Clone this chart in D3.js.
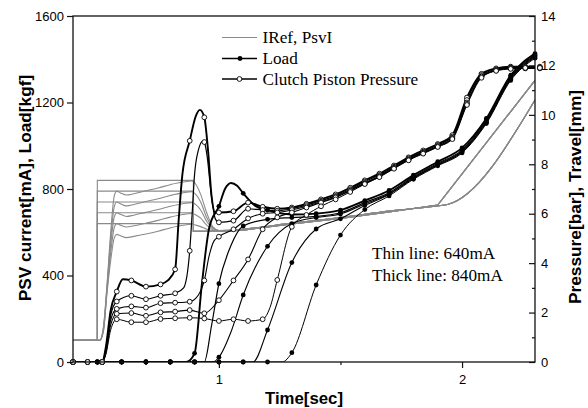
<!DOCTYPE html>
<html><head><meta charset="utf-8">
<script src="https://cdn.jsdelivr.net/npm/d3@7"></script>
<style>body{margin:0;background:#fff}svg{display:block}</style>
</head><body><svg id="c" width="588" height="408"></svg>
<script>
// ---------- tick labels ----------
const xTicks = [1, 2];
const xMinorTicks = [0.5, 1.5];
const leftTicks = [0, 400, 800, 1200, 1600];
const rightTicks = [0, 2, 4, 6, 8, 10, 12, 14];
const rightMinorTicks = [1, 3, 5, 7, 9, 11, 13];
const legendLabels = ["IRef, PsvI", "Load", "Clutch Piston Pressure"];
const notes = ["Thin line: 640mA", "Thick line: 840mA"];

// ---------- IRef (mA), five current levels ----------
const iref840 = [[0.4,100],[0.5,100],[0.5,840],[0.895,840],[0.895,604],[1.0,604],[1.1,610],[1.3,638],[1.5,664],[1.7,694],[1.9,726],[2.3,1302]];
const iref790 = [[0.4,100],[0.5,100],[0.5,790],[0.895,790],[0.895,604],[1.0,604],[1.1,610],[1.3,638],[1.5,664],[1.7,694],[1.9,726],[2.3,1302]];
const iref740 = [[0.4,100],[0.5,100],[0.5,740],[0.895,740],[0.895,604],[1.0,604],[1.1,610],[1.3,638],[1.5,664],[1.7,694],[1.9,726],[2.3,1302]];
const iref690 = [[0.4,100],[0.5,100],[0.5,690],[0.895,690],[0.895,604],[1.0,604],[1.1,610],[1.3,638],[1.5,664],[1.7,694],[1.9,726],[2.3,1302]];
const iref640 = [[0.4,100],[0.5,100],[0.5,640],[0.895,640],[0.895,604],[1.0,604],[1.1,610],[1.3,638],[1.5,664],[1.7,694],[1.9,726],[2.3,1302]];

// ---------- PsvI (mA), measured current ----------
const psvi840 = [[0.4,100],[0.51,100],[0.525,160],[0.54,360],[0.555,600],[0.57,770],[0.58,790],[0.595,782],[0.62,772],[0.65,778],[0.70,792],[0.75,805],[0.80,820],[0.85,832],[0.89,837],[0.905,822],[0.925,775],[0.95,690],[0.975,625],[1.0,608],[1.1,614],[1.3,642],[1.5,668],[1.7,698],[1.9,722],[1.94,728],[2.3,1212]];
const psvi790 = [[0.4,100],[0.51,100],[0.525,155],[0.54,350],[0.555,570],[0.57,720],[0.58,740],[0.595,732],[0.62,722],[0.65,728],[0.70,742],[0.75,755],[0.80,770],[0.85,782],[0.89,787],[0.905,775],[0.925,740],[0.95,668],[0.975,622],[1.0,608],[1.1,614],[1.3,642],[1.5,668],[1.7,698],[1.9,722],[1.94,728],[2.3,1212]];
const psvi740 = [[0.4,100],[0.51,100],[0.525,150],[0.54,340],[0.555,540],[0.57,672],[0.58,690],[0.595,683],[0.62,673],[0.65,679],[0.70,692],[0.75,705],[0.80,720],[0.85,732],[0.89,737],[0.905,728],[0.925,703],[0.95,650],[0.975,618],[1.0,607],[1.1,614],[1.3,642],[1.5,668],[1.7,698],[1.9,722],[1.94,728],[2.3,1212]];
const psvi690 = [[0.4,100],[0.51,100],[0.525,145],[0.54,330],[0.555,505],[0.57,623],[0.58,640],[0.595,633],[0.62,624],[0.65,630],[0.70,642],[0.75,655],[0.80,670],[0.85,682],[0.89,687],[0.905,680],[0.925,665],[0.95,633],[0.975,612],[1.0,606],[1.1,614],[1.3,642],[1.5,668],[1.7,698],[1.9,722],[1.94,728],[2.3,1212]];
const psvi640 = [[0.4,100],[0.51,100],[0.525,140],[0.54,320],[0.555,470],[0.57,575],[0.58,590],[0.595,584],[0.62,575],[0.65,581],[0.70,592],[0.75,605],[0.80,620],[0.85,632],[0.89,637],[0.905,633],[0.925,626],[0.95,614],[0.975,608],[1.0,606],[1.1,614],[1.3,642],[1.5,668],[1.7,698],[1.9,722],[1.94,728],[2.3,1212]];

// ---------- Load (kgf): [time, value, marker?] ----------
const load840 = [[0.4,0],[0.5,0],[0.6,0],[0.7,0],[0.8,0],[0.865,0,0],[0.9,40],[0.93,360,0],[0.96,620,0],[1.0,720],[1.025,800,0],[1.05,828,0],[1.075,815,0],[1.1,780],[1.15,722,0],[1.2,702],[1.3,682],[1.4,686],[1.5,702],[1.6,746],[1.7,793],[1.8,864],[1.9,926],[2.0,990],[2.1,1126],[2.2,1326],[2.3,1426]];
const load790 = [[0.4,0],[0.5,0],[0.6,0],[0.7,0],[0.8,0],[0.9,0],[0.94,0,0],[0.97,170,0],[1.0,362],[1.05,540,0],[1.1,629],[1.2,660],[1.3,668],[1.4,673],[1.5,690],[1.6,737],[1.7,783],[1.8,857],[1.9,919],[2.0,980],[2.1,1119],[2.2,1319],[2.3,1420]];
const load740 = [[0.4,0],[0.5,0],[0.6,0],[0.7,0],[0.8,0],[0.9,0],[0.975,0,0],[1.0,22],[1.05,140,0],[1.1,310],[1.2,535],[1.3,640],[1.4,668],[1.5,684],[1.6,731],[1.7,778],[1.8,852],[1.9,914],[2.0,975],[2.1,1112],[2.2,1312],[2.3,1415]];
const load690 = [[0.4,0],[0.5,0],[0.6,0],[0.7,0],[0.8,0],[0.9,0],[1.0,0],[1.1,0],[1.14,0,0],[1.2,148],[1.3,460],[1.4,615],[1.5,662],[1.6,724],[1.7,775],[1.8,849],[1.9,911],[2.0,971],[2.1,1108],[2.2,1308],[2.3,1410]];
const load640 = [[0.4,0],[0.5,0],[0.6,0],[0.7,0],[0.8,0],[0.9,0],[1.0,0],[1.1,0],[1.2,0],[1.26,0,0],[1.3,43],[1.4,356],[1.5,587],[1.6,705],[1.7,768],[1.8,845],[1.9,907],[2.0,967],[2.1,1103],[2.2,1302],[2.3,1405]];

// ---------- Clutch piston pressure (bar): [time, value, marker?] ----------
const pres840 = [[0.40,0],[0.46,0],[0.52,0],[0.535,0.6,0],[0.555,2.1,0],[0.58,2.85],[0.605,3.35,0],[0.64,3.3],[0.70,3.05],[0.76,3.14],[0.79,3.3,0],[0.82,3.75],[0.835,5.8,0],[0.85,7.6,0],[0.88,8.95],[0.905,9.95,0],[0.922,10.2,0],[0.94,9.9],[0.955,8.6,0],[0.97,6.7,0],[0.985,6.05,0],[1.00,6.05],[1.06,6.1],[1.12,6.45],[1.18,6.28],[1.24,6.2],[1.30,6.25],[1.36,6.4],[1.42,6.58],[1.48,6.78],[1.54,7.05],[1.60,7.35],[1.66,7.62],[1.72,7.95],[1.78,8.28],[1.84,8.56],[1.90,8.82],[1.96,9.18],[2.02,10.7],[2.08,11.66],[2.14,11.88],[2.20,11.95],[2.26,11.95],[2.32,11.95]];
const pres790 = [[0.40,0],[0.46,0],[0.52,0],[0.535,0.5,0],[0.555,1.9,0],[0.58,2.45],[0.64,2.68],[0.70,2.54],[0.76,2.68],[0.82,2.78],[0.855,3.0,0],[0.88,4.5],[0.89,6.0,0],[0.90,7.6,0],[0.915,8.55,0],[0.935,8.95,0],[0.94,8.9],[0.952,8.3,0],[0.967,6.9,0],[0.985,5.8,0],[1.00,5.65],[1.06,5.72],[1.12,6.2],[1.18,6.15],[1.24,6.12],[1.30,6.2],[1.36,6.35],[1.42,6.53],[1.48,6.72],[1.54,6.99],[1.60,7.30],[1.66,7.57],[1.72,7.90],[1.78,8.24],[1.84,8.51],[1.90,8.78],[1.96,9.12],[2.02,10.6],[2.08,11.61],[2.14,11.84],[2.20,11.92],[2.26,11.9],[2.32,11.9]];
const pres740 = [[0.40,0],[0.46,0],[0.52,0],[0.535,0.4,0],[0.555,1.7,0],[0.58,2.15],[0.64,2.25],[0.70,2.2],[0.76,2.38],[0.82,2.4],[0.88,2.44],[0.915,2.7,0],[0.94,3.3],[0.96,4.3,0],[0.98,4.9,0],[1.00,5.07],[1.06,5.37],[1.12,5.81],[1.18,6.0],[1.24,6.05],[1.30,6.15],[1.36,6.3],[1.42,6.48],[1.48,6.68],[1.54,6.95],[1.60,7.25],[1.66,7.53],[1.72,7.86],[1.78,8.2],[1.84,8.47],[1.90,8.74],[1.96,9.07],[2.02,10.5],[2.08,11.56],[2.14,11.8],[2.20,11.9],[2.26,11.88],[2.32,11.88]];
const pres690 = [[0.40,0],[0.46,0],[0.52,0],[0.535,0.35,0],[0.555,1.5,0],[0.58,1.95],[0.64,1.98],[0.70,1.87],[0.76,2.01],[0.82,2.04],[0.88,2.1],[0.94,1.97],[1.00,2.5],[1.06,3.3],[1.12,4.15],[1.18,5.37],[1.24,5.85],[1.30,6.05],[1.36,6.25],[1.42,6.45],[1.48,6.66],[1.54,6.93],[1.60,7.22],[1.66,7.5],[1.72,7.84],[1.78,8.18],[1.84,8.45],[1.90,8.72],[1.96,9.05],[2.02,10.45],[2.08,11.55],[2.14,11.8],[2.20,11.88],[2.26,11.92],[2.32,11.92]];
const pres640 = [[0.40,0],[0.46,0],[0.52,0],[0.535,0.3,0],[0.555,1.3,0],[0.58,1.73],[0.64,1.61],[0.70,1.61],[0.76,1.74],[0.82,1.77],[0.88,1.79],[0.94,1.76],[1.00,1.66],[1.06,1.73],[1.12,1.66],[1.18,1.73],[1.21,2.2,0],[1.24,3.32],[1.30,5.47],[1.36,5.95],[1.42,6.3],[1.48,6.58],[1.54,6.88],[1.60,7.2],[1.66,7.48],[1.72,7.82],[1.78,8.16],[1.84,8.43],[1.90,8.7],[1.96,9.02],[2.02,10.4],[2.08,11.5],[2.14,11.78],[2.20,11.86],[2.26,11.9],[2.32,11.9]];

// ---------- drawing ----------
const M = {l:73, r:535, t:16, b:362};
const GRAY = "#8a8a8a";
const SANS = "Liberation Sans, Arial, sans-serif";
const SERIF = "Liberation Serif, Times New Roman, serif";

const x = d3.scaleLinear().domain([0.4, 2.3]).range([M.l, M.r]);
const yL = d3.scaleLinear().domain([0, 1600]).range([M.b, M.t]);
const yR = d3.scaleLinear().domain([0, 14]).range([M.b, M.t]);

const svg = d3.select("#c");
svg.append("defs").append("clipPath").attr("id", "clip")
  .append("rect").attr("x", M.l).attr("y", M.t).attr("width", M.r - M.l).attr("height", M.b - M.t);

const plot = svg.append("g").attr("clip-path", "url(#clip)");
const lineLin = d3.line().x(d => x(d[0])).y(d => yL(d[1]));
const lineL = d3.line().x(d => x(d[0])).y(d => yL(d[1])).curve(d3.curveMonotoneX);
const lineR = d3.line().x(d => x(d[0])).y(d => yR(d[1])).curve(d3.curveMonotoneX);

// gray current lines
[iref840, iref790, iref740, iref690, iref640].forEach(s =>
  plot.append("path").attr("d", lineLin(s)).attr("fill", "none").attr("stroke", GRAY).attr("stroke-width", 1.1));
[psvi840, psvi790, psvi740, psvi690, psvi640].forEach(s =>
  plot.append("path").attr("d", lineL(s)).attr("fill", "none").attr("stroke", GRAY).attr("stroke-width", 1.1));

const presSeries = [pres840, pres790, pres740, pres690, pres640];
const loadSeries = [load840, load790, load740, load690, load640];
const widths = [1.9, 1.2, 1.1, 1.1, 1.0];

loadSeries.forEach((s, i) =>
  plot.append("path").attr("d", lineL(s)).attr("fill", "none").attr("stroke", "#000").attr("stroke-width", widths[i]));
presSeries.forEach((s, i) =>
  plot.append("path").attr("d", lineR(s)).attr("fill", "none").attr("stroke", "#000").attr("stroke-width", widths[i]));

const mk = svg.append("g");
loadSeries.forEach(s => mk.selectAll(null).data(s.filter(d => d[2] !== 0 && d[0] <= 2.3)).enter()
  .append("circle").attr("cx", d => x(d[0])).attr("cy", d => yL(d[1])).attr("r", 2.4).attr("fill", "#000"));
presSeries.forEach(s => mk.selectAll(null).data(s.filter(d => d[2] !== 0)).enter()
  .append("circle").attr("cx", d => x(d[0])).attr("cy", d => yR(d[1])).attr("r", 2.4)
  .attr("fill", "#fff").attr("stroke", "#000").attr("stroke-width", 0.9));

// frame
svg.append("rect").attr("x", M.l).attr("y", M.t).attr("width", M.r - M.l).attr("height", M.b - M.t)
  .attr("fill", "none").attr("stroke", "#111").attr("stroke-width", 1.3);

// axes
function styleAxis(g) {
  g.select(".domain").remove();
  g.selectAll("line").attr("stroke", "#111").attr("stroke-width", 1.2);
  g.selectAll("text").attr("font-family", SANS).attr("font-size", 13).attr("fill", "#000");
}
svg.append("g").attr("transform", `translate(${M.l},0)`)
  .call(d3.axisLeft(yL).tickValues(leftTicks).tickSize(6).tickPadding(3).tickFormat(d3.format("d"))).call(styleAxis);
svg.append("g").attr("transform", `translate(${M.r},0)`)
  .call(d3.axisRight(yR).tickValues(rightTicks).tickSizeInner(-6).tickSizeOuter(0).tickPadding(6).tickFormat(d3.format("d"))).call(styleAxis);
svg.append("g").attr("transform", `translate(${M.r},0)`)
  .call(d3.axisRight(yR).tickValues(rightMinorTicks).tickSizeInner(-3).tickSizeOuter(0).tickFormat(() => "")).call(styleAxis);
svg.append("g").attr("transform", `translate(0,${M.b})`)
  .call(d3.axisBottom(x).tickValues(xTicks).tickSize(6).tickPadding(7).tickFormat(d3.format("d"))).call(styleAxis);
svg.append("g").attr("transform", `translate(0,${M.b})`)
  .call(d3.axisBottom(x).tickValues(xMinorTicks).tickSize(3).tickFormat(() => "")).call(styleAxis);

// axis titles
svg.append("text").attr("x", 304).attr("y", 404).attr("text-anchor", "middle")
  .attr("font-family", SANS).attr("font-weight", "bold").attr("font-size", 16.8).text("Time[sec]");
svg.append("text").attr("transform", "translate(31,188) rotate(-90)").attr("text-anchor", "middle")
  .attr("font-family", SANS).attr("font-weight", "bold").attr("font-size", 17.3).text("PSV current[mA], Load[kgf]");
svg.append("text").attr("transform", "translate(581,197) rotate(-90)").attr("text-anchor", "middle")
  .attr("font-family", SANS).attr("font-weight", "bold").attr("font-size", 17.3).text("Pressure[bar], Travel[mm]");

// legend
const lg = svg.append("g");
const rowsY = [37.5, 58.5, 79];
const lx0 = 222, lx1 = 257;
lg.append("line").attr("x1", lx0).attr("x2", lx1).attr("y1", rowsY[0]).attr("y2", rowsY[0]).attr("stroke", GRAY).attr("stroke-width", 1.1);
lg.append("line").attr("x1", lx0).attr("x2", lx1).attr("y1", rowsY[1]).attr("y2", rowsY[1]).attr("stroke", "#000").attr("stroke-width", 1.3);
lg.append("circle").attr("cx", 240).attr("cy", rowsY[1]).attr("r", 2.4).attr("fill", "#000");
lg.append("line").attr("x1", lx0).attr("x2", lx1).attr("y1", rowsY[2]).attr("y2", rowsY[2]).attr("stroke", "#000").attr("stroke-width", 1.3);
lg.append("circle").attr("cx", 239.5).attr("cy", rowsY[2]).attr("r", 2.4).attr("fill", "#fff").attr("stroke", "#000").attr("stroke-width", 0.9);
legendLabels.forEach((t, i) =>
  lg.append("text").attr("x", 262.5).attr("y", rowsY[i] + 5.8).attr("font-family", SERIF).attr("font-size", 17.2).attr("fill", "#000").text(t));

// notes
notes.forEach((t, i) =>
  svg.append("text").attr("x", 372).attr("y", [258.5, 281][i]).attr("font-family", SERIF).attr("font-size", 17.2).attr("fill", "#000").text(t));
</script>
</body></html>
